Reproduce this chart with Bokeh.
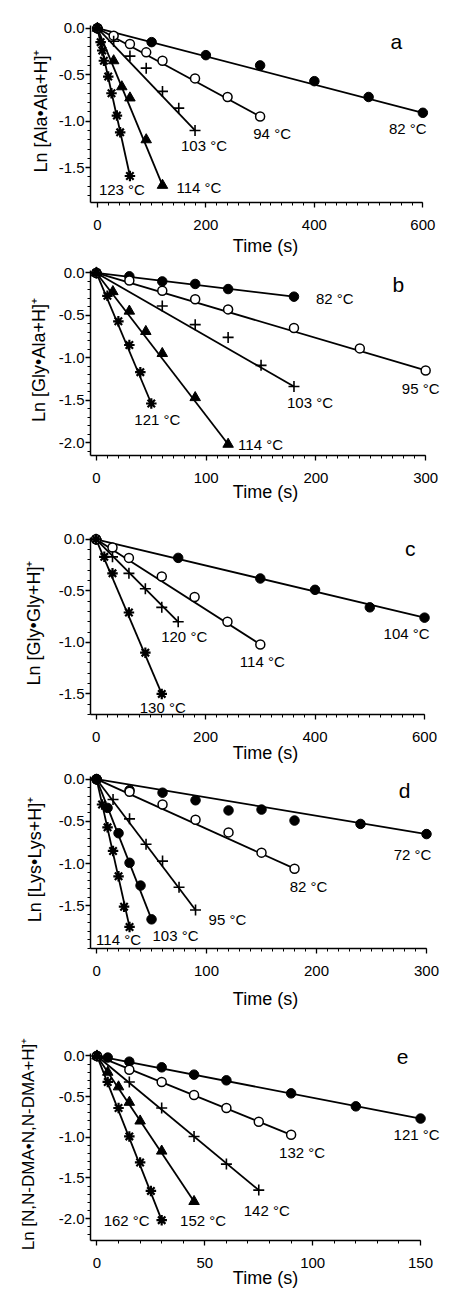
import numpy as np
from bokeh.plotting import figure
from bokeh.layouts import column
from bokeh.models import FixedTicker, PrintfTickFormatter, Range1d
from bokeh.core.properties import value
from bokeh.embed import file_html
from bokeh.resources import INLINE

FONT = "Liberation Sans"

# ---------------- data (time in s, ln of relative intensity) ----------------
# panel a : Ala-Ala
a_t82 = [0, 100, 200, 300, 400, 500, 600]
a_y82 = [0, -0.15, -0.29, -0.40, -0.57, -0.74, -0.91]
a_t94 = [0, 30, 60, 90, 120, 180, 240, 300]
a_y94 = [0, -0.08, -0.17, -0.26, -0.35, -0.54, -0.74, -0.95]
a_t103 = [0, 30, 60, 90, 120, 150, 180]
a_y103 = [0, -0.14, -0.30, -0.43, -0.68, -0.86, -1.10]
a_t114 = [0, 30, 45, 60, 90, 120]
a_y114 = [0, -0.35, -0.63, -0.75, -1.20, -1.69]
a_t123 = [0, 6, 9, 12, 20, 26, 36, 42, 60]
a_y123 = [0, -0.15, -0.24, -0.35, -0.52, -0.70, -0.94, -1.12, -1.59]

# panel b : Gly-Ala
b_t82 = [0, 30, 60, 90, 120, 180]
b_y82 = [0, -0.04, -0.10, -0.13, -0.19, -0.28]
b_t95 = [0, 30, 60, 90, 120, 180, 240, 300]
b_y95 = [0, -0.09, -0.21, -0.31, -0.43, -0.65, -0.89, -1.15]
b_t103 = [0, 60, 90, 120, 150, 180]
b_y103 = [0, -0.39, -0.61, -0.76, -1.09, -1.34]
b_t114 = [0, 15, 30, 45, 60, 90, 120]
b_y114 = [0, -0.22, -0.45, -0.69, -0.95, -1.47, -2.02]
b_t121 = [0, 10, 20, 30, 40, 50]
b_y121 = [0, -0.27, -0.57, -0.85, -1.17, -1.54]

# panel c : Gly-Gly
c_t104 = [0, 150, 300, 400, 500, 600]
c_y104 = [0, -0.18, -0.38, -0.49, -0.66, -0.76]
c_t114 = [0, 30, 60, 120, 180, 240, 300]
c_y114 = [0, -0.08, -0.18, -0.36, -0.56, -0.80, -1.02]
c_t120 = [0, 30, 60, 90, 120, 150]
c_y120 = [0, -0.17, -0.33, -0.48, -0.66, -0.80]
c_t130 = [0, 15, 30, 60, 90, 120]
c_y130 = [0, -0.17, -0.33, -0.71, -1.10, -1.50]

# panel d : Lys-Lys
d_t72 = [0, 30, 60, 90, 120, 150, 180, 240, 300]
d_y72 = [0, -0.13, -0.16, -0.25, -0.37, -0.36, -0.49, -0.53, -0.65]
d_t82 = [0, 30, 60, 90, 120, 150, 180]
d_y82 = [0, -0.15, -0.30, -0.48, -0.63, -0.87, -1.06]
d_t95 = [0, 15, 30, 45, 60, 75, 90]
d_y95 = [0, -0.24, -0.47, -0.77, -0.97, -1.28, -1.55]
d_t103 = [0, 10, 20, 30, 40, 50]
d_y103 = [0, -0.34, -0.64, -0.99, -1.26, -1.66]
d_t114 = [0, 5, 10, 15, 20, 25, 30]
d_y114 = [0, -0.30, -0.57, -0.85, -1.15, -1.51, -1.75]

# panel e : N,N-DMA-N,N-DMA
e_t121 = [0, 5, 15, 30, 45, 60, 90, 120, 150]
e_y121 = [0, -0.02, -0.07, -0.14, -0.23, -0.30, -0.46, -0.62, -0.77]
e_t132 = [0, 15, 30, 45, 60, 75, 90]
e_y132 = [0, -0.17, -0.32, -0.48, -0.64, -0.81, -0.97]
e_t142 = [0, 15, 30, 45, 60, 75]
e_y142 = [0, -0.32, -0.64, -0.99, -1.33, -1.65]
e_t152 = [0, 5, 10, 15, 20, 30, 45]
e_y152 = [0, -0.20, -0.38, -0.57, -0.80, -1.17, -1.79]
e_t162 = [0, 5, 10, 15, 20, 25, 30]
e_y162 = [0, -0.32, -0.64, -0.99, -1.31, -1.66, -2.02]

# tick labels
x_ticks_600 = [0, 200, 400, 600]
x_ticks_300 = [0, 100, 200, 300]
x_ticks_150 = [0, 50, 100, 150]
y_ticks_15 = [0.0, -0.5, -1.0, -1.5]
y_ticks_20 = [0.0, -0.5, -1.0, -1.5, -2.0]

# ---------------- styles ----------------
MARK = {
    "filled": dict(marker="circle", size=9.5, fill_color="black", line_color="black", line_width=1),
    "open": dict(marker="circle", size=9, fill_color="white", line_color="black", line_width=1.5),
    "plus": dict(marker="cross", size=11, line_color="black", line_width=1.6),
    "tri": dict(marker="triangle", size=10.5, fill_color="black", line_color="black", line_width=1),
    "star": dict(marker="asterisk", size=10.5, line_color="black", line_width=2.2),
}

PAGE_W = 458
FRAME_RIGHT = 440   # frame extends past the last x tick so edge marks/labels are not clipped
TOP_PAD = 6         # frame extends a little above the y axis top

# layout geometry (pixels): figure top/height, axis spine extents
PANELS = [
    dict(letter="a", ylab="Ln [Ala\u2022Ala+H]\u207a", top=0, h=258,
         ax_l=83, ax_r=422, ax_t=25, ax_b=208,
         xr=(-12.7, 600), yr=(-1.875, 0.031), xt=x_ticks_600, xminor=20, yt=y_ticks_15,
         letter_xy=(551, -0.146), ystand=5, xstand=3,
         series=[(a_t82, a_y82, "filled", "82 \u00b0C", -15, 16, "center"),
                 (a_t94, a_y94, "open", "94 \u00b0C", 12, 17, "center"),
                 (a_t103, a_y103, "plus", "103 \u00b0C", 9, 15, "center"),
                 (a_t114, a_y114, "tri", "114 \u00b0C", 14, 2, "left"),
                 (a_t123, a_y123, "star", "123 \u00b0C", -8, 13, "center")]),
    dict(letter="b", ylab="Ln [Gly\u2022Ala+H]\u207a", top=258, h=246,
         ax_l=86, ax_r=425, ax_t=270, ax_b=461,
         xr=(-5.4, 300), yr=(-2.153, 0.031), xt=x_ticks_300, xminor=10, yt=y_ticks_20,
         letter_xy=(275, -0.14), ystand=7, xstand=-4,
         series=[(b_t82, b_y82, "filled", "82 \u00b0C", 22, 2, "left"),
                 (b_t95, b_y95, "open", "95 \u00b0C", -5, 18, "center"),
                 (b_t103, b_y103, "plus", "103 \u00b0C", 16, 16, "center"),
                 (b_t114, b_y114, "tri", "114 \u00b0C", 10, 0, "left"),
                 (b_t121, b_y121, "star", "121 \u00b0C", 6, 16, "center")]),
    dict(letter="c", ylab="Ln [Gly\u2022Gly+H]\u207a", top=504, h=261,
         ax_l=89, ax_r=424, ax_t=537, ax_b=721,
         xr=(-10.2, 600), yr=(-1.70, 0.02), xt=x_ticks_600, xminor=20, yt=y_ticks_15,
         letter_xy=(574, -0.085), ystand=12, xstand=-2,
         series=[(c_t104, c_y104, "filled", "104 \u00b0C", -18, 16, "center"),
                 (c_t114, c_y114, "open", "114 \u00b0C", 2, 17, "center"),
                 (c_t120, c_y120, "plus", "120 \u00b0C", 6, 15, "center"),
                 (c_t130, c_y130, "star", "130 \u00b0C", 1, 14, "center")]),
    dict(letter="d", ylab="Ln [Lys\u2022Lys+H]\u207a", top=765, h=246,
         ax_l=90, ax_r=426, ax_t=776, ax_b=954,
         xr=(-5.5, 300), yr=(-2.005, 0.034), xt=x_ticks_300, xminor=10, yt=y_ticks_15,
         letter_xy=(280, -0.137), ystand=11, xstand=10,
         series=[(d_t72, d_y72, "filled", "72 \u00b0C", -14, 20, "center"),
                 (d_t82, d_y82, "open", "82 \u00b0C", 14, 18, "center"),
                 (d_t95, d_y95, "plus", "95 \u00b0C", 13, 9, "left"),
                 (d_t103, d_y103, "filled", "103 \u00b0C", 24, 16, "center"),
                 (d_t114, d_y114, "star", "114 \u00b0C", -11, 13, "center")]),
    dict(letter="e", ylab="Ln [N,N-DMA\u2022N,N-DMA+H]\u207a", top=1011, h=279,
         ax_l=89, ax_r=420, ax_t=1053, ax_b=1245,
         xr=(-3.0, 150), yr=(-2.27, 0.032), xt=x_ticks_150, xminor=10, yt=y_ticks_20,
         letter_xy=(141.7, -0.016), ystand=18, xstand=-3,
         series=[(e_t121, e_y121, "filled", "121 \u00b0C", -4, 16, "center"),
                 (e_t132, e_y132, "open", "132 \u00b0C", 11, 18, "center"),
                 (e_t142, e_y142, "plus", "142 \u00b0C", 8, 20, "center"),
                 (e_t152, e_y152, "tri", "152 \u00b0C", 9, 19, "center"),
                 (e_t162, e_y162, "star", "162 \u00b0C", -12, 0, "right")]),
]


def make_panel(cfg):
    x0, x1 = cfg["xr"]
    y0, y1 = cfg["yr"]
    sx = (cfg["ax_r"] - cfg["ax_l"]) / (x1 - x0)
    sy = (cfg["ax_b"] - cfg["ax_t"]) / (y1 - y0)
    x_ext = x1 + (FRAME_RIGHT - cfg["ax_r"]) / sx
    y_ext = y1 + TOP_PAD / sy
    bt = cfg["ax_t"] - TOP_PAD - cfg["top"]
    bb = cfg["top"] + cfg["h"] - cfg["ax_b"]

    p = figure(width=PAGE_W, height=cfg["h"],
               x_range=Range1d(x0, x_ext), y_range=Range1d(y0, y_ext),
               output_backend="svg", toolbar_location=None,
               min_border_left=cfg["ax_l"], min_border_right=PAGE_W - FRAME_RIGHT,
               min_border_top=bt, min_border_bottom=bb)
    p.outline_line_color = None
    p.xgrid.visible = False
    p.ygrid.visible = False
    p.background_fill_color = "white"
    p.border_fill_color = "white"

    xt = cfg["xt"]
    xminor = list(np.arange(0, xt[-1] + 0.1, cfg["xminor"]))
    p.xaxis.ticker = FixedTicker(ticks=xt, minor_ticks=xminor)
    p.xaxis.bounds = (x0, x1)
    yt = cfg["yt"]
    yminor = [round(v, 2) for v in np.arange(0, y0 - 0.001, -0.1)]
    p.yaxis.ticker = FixedTicker(ticks=yt, minor_ticks=yminor)
    p.yaxis.formatter = PrintfTickFormatter(format="%.1f")
    p.yaxis.bounds = (y0, y1)

    for ax in (p.xaxis[0], p.yaxis[0]):
        ax.axis_line_width = 1.5
        ax.axis_line_color = "black"
        ax.major_tick_out = 5
        ax.major_tick_in = 0
        ax.minor_tick_out = 3
        ax.minor_tick_in = 0
        ax.major_tick_line_width = 1.3
        ax.minor_tick_line_width = 1
        ax.major_tick_line_color = "black"
        ax.minor_tick_line_color = "black"
        ax.major_label_text_font = FONT
        ax.major_label_text_font_size = "15px"
        ax.major_label_text_color = "black"
        ax.axis_label_text_font = FONT
        ax.axis_label_text_font_style = "normal"
        ax.axis_label_text_color = "black"
    p.xaxis.major_label_standoff = 12
    p.yaxis.major_label_standoff = 1

    p.yaxis.axis_label = cfg["ylab"]
    p.yaxis.axis_label_text_font_size = "17px" if cfg["letter"] == "e" else "18px"
    p.yaxis.axis_label_standoff = cfg["ystand"]

    p.xaxis.axis_label = "Time (s)"
    p.xaxis.axis_label_text_font_size = "18px"
    p.xaxis.axis_label_standoff = cfg["xstand"]

    # straight decay lines from the first to the last measurement, then markers
    for t, y, kind, lab, dx, dy, align in cfg["series"]:
        p.line([t[0], t[-1]], [y[0], y[-1]], line_color="black", line_width=1.8)
    for t, y, kind, lab, dx, dy, align in cfg["series"]:
        p.scatter(t, y, **MARK[kind])
        p.text(x=[t[-1]], y=[y[-1]], text=[lab], x_offset=dx, y_offset=dy,
               text_align=align, text_baseline="middle",
               text_font=value(FONT), text_font_size="15px", text_color="black")

    lx, ly = cfg["letter_xy"]
    p.text(x=[lx], y=[ly], text=[cfg["letter"]], text_align="center",
           text_baseline="middle", text_font=value(FONT), text_font_size="21px",
           text_color="black")
    return p


plots = [make_panel(c) for c in PANELS]
layout = column(*plots, spacing=0)
open("out.html", "w").write(file_html(layout, INLINE))
